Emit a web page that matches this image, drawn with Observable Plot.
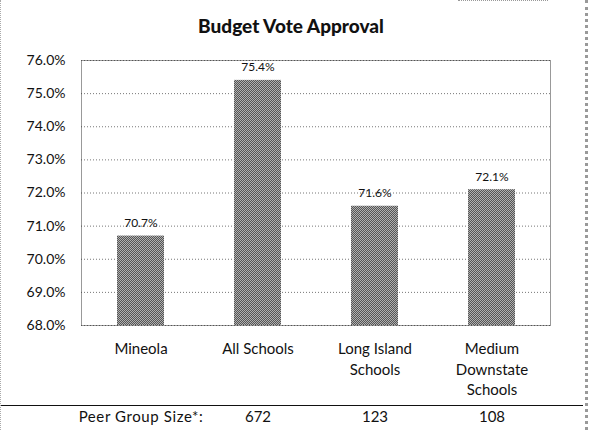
<!DOCTYPE html>
<html>
<head>
<meta charset="utf-8">
<script src="https://cdn.jsdelivr.net/npm/d3@7"></script>
<script src="https://cdn.jsdelivr.net/npm/@observablehq/plot@0.6"></script>
<style>
  html, body { margin: 0; padding: 0; background: #fff; }
  #wrap { position: relative; width: 589px; height: 430px; overflow: hidden; background: #fff; font-family: Lato, "Open Sans", sans-serif; color: #111; }
  #title { height: 45px; box-sizing: border-box; padding-top: 16px; line-height: 19px; font-size: 19px; font-weight: 900; text-align: center; width: 582px; }
  #chart svg { display: block; }
  .sep { position: absolute; left: 0; top: 405px; width: 583px; border-top: 1.5px solid #111; }
  .bl { position: absolute; left: 0; top: 0; height: 430px; border-left: 1px dotted #aaa; }
  .br { position: absolute; left: 585px; top: 0; height: 430px; border-left: 3px dotted #999; }
  .bt { position: absolute; left: 458px; top: 0; width: 90px; border-top: 1px dotted #999; }
</style>
</head>
<body>
<div id="wrap">
  <div id="title">Budget Vote Approval</div>
  <div id="chart"></div>
  <div class="sep"></div>
  <div class="bl"></div>
  <div class="br"></div>
  <div class="bt"></div>
</div>
<script>
const categories = ["Mineola", "All Schools", "Long Island\nSchools", "Medium\nDownstate\nSchools"];
const values = [70.7, 75.4, 71.6, 72.1];
const peerLabels = ["Peer Group Size*:", "672", "123", "108"];
const yTicks = [68, 69, 70, 71, 72, 73, 74, 75, 76];
const yDomain = [68, 76];

const data = categories.map((c, i) => ({cat: c, value: values[i], peer: peerLabels[i]}));

const plot = Plot.plot({
  width: 589,
  height: 385,
  marginLeft: 81,
  marginRight: 39,
  marginTop: 15,
  marginBottom: 105,
  style: {fontFamily: "Lato, 'Open Sans', sans-serif", fontSize: "14px", color: "#111", background: "transparent"},
  x: {domain: categories, paddingInner: 0.6, paddingOuter: 0.3, axis: null},
  y: {domain: yDomain, axis: null},
  marks: [
    Plot.gridY(yTicks, {stroke: "#777", strokeOpacity: 1, strokeDasharray: "1,2"}),
    Plot.barY(data, {x: "cat", y: "value", fill: "url(#dither)", clip: true}),
    Plot.frame({stroke: "#333", strokeDasharray: "1,1"}),
    Plot.axisY(yTicks, {tickSize: 0, tickPadding: 16, tickFormat: d => d.toFixed(1) + "%", fontSize: 14, label: null}),
    Plot.text(data, {x: "cat", y: "value", text: d => d.value.toFixed(1) + "%", dy: -13, fontSize: 12}),
    Plot.text(data, {x: "cat", text: "cat", frameAnchor: "bottom", lineAnchor: "top", dy: 14, lineHeight: 1.37, fontSize: 15}),
    Plot.text(data, {x: "cat", text: "peer", frameAnchor: "bottom", dy: 96, fontSize: 15})
  ]
});

const svg = d3.select(plot);
const pat = svg.insert("defs", ":first-child")
  .append("pattern")
  .attr("id", "dither")
  .attr("patternUnits", "userSpaceOnUse")
  .attr("width", 2).attr("height", 2);
pat.append("rect").attr("width", 2).attr("height", 2).attr("fill", "#b0b0b0");
pat.append("rect").attr("x", 0).attr("y", 0).attr("width", 1).attr("height", 1).attr("fill", "#555");
pat.append("rect").attr("x", 1).attr("y", 1).attr("width", 1).attr("height", 1).attr("fill", "#555");

svg.selectAll("text").filter(function() { return this.textContent === peerLabels[0]; })
  .attr("letter-spacing", "0.6px");

document.getElementById("chart").appendChild(plot);
</script>
</body>
</html>
